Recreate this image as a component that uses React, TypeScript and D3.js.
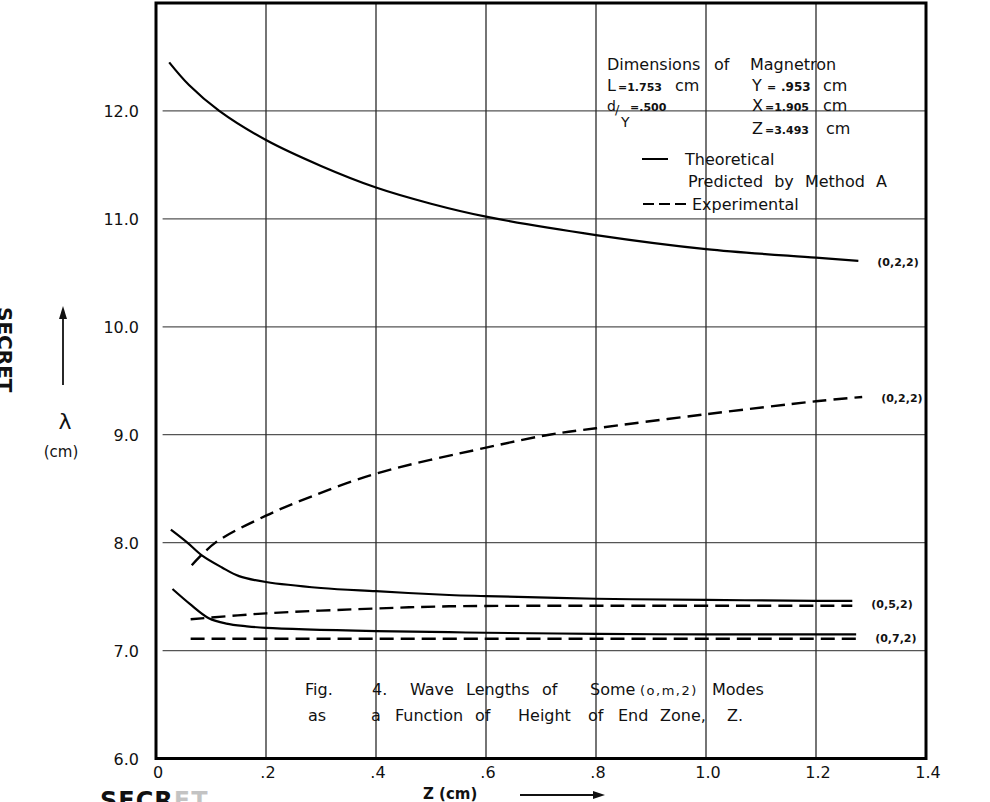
import React from "react";
import * as d3 from "d3";

const W = 990;
const H = 802;

// Axis ticks
const zTicks = [0, 0.2, 0.4, 0.6, 0.8, 1.0, 1.2, 1.4];
const zTickLabels = ["0", ".2", ".4", ".6", ".8", "1.0", "1.2", "1.4"];
const lambdaTicks = [6, 7, 8, 9, 10, 11, 12];
const lambdaTickLabels = ["6.0", "7.0", "8.0", "9.0", "10.0", "11.0", "12.0"];

// (0,2,2) mode
const theo022Z = [0.024, 0.06, 0.115, 0.2, 0.3, 0.4, 0.5, 0.6, 0.8, 1.0, 1.2, 1.277];
const theo022L = [12.45, 12.24, 12.0, 11.73, 11.49, 11.29, 11.14, 11.02, 10.85, 10.72, 10.64, 10.61];
const exp022Z = [0.065, 0.108, 0.2, 0.284, 0.4, 0.6, 0.715, 0.8, 1.0, 1.2, 1.284];
const exp022L = [7.79, 8.0, 8.25, 8.43, 8.64, 8.88, 9.0, 9.06, 9.19, 9.31, 9.35];

// (0,5,2) mode
const theo052Z = [0.027, 0.057, 0.084, 0.12, 0.151, 0.2, 0.3, 0.4, 0.533, 0.6, 0.8, 1.0, 1.2, 1.266];
const theo052L = [8.12, 8.0, 7.88, 7.77, 7.69, 7.635, 7.58, 7.55, 7.515, 7.505, 7.48, 7.47, 7.46, 7.46];
const exp052Z = [0.063, 0.2, 0.4, 0.533, 0.8, 1.0, 1.266];
const exp052L = [7.29, 7.345, 7.39, 7.41, 7.415, 7.415, 7.415];

// (0,7,2) mode
const theo072Z = [0.03, 0.062, 0.096, 0.128, 0.165, 0.2, 0.4, 0.533, 0.6, 0.8, 1.0, 1.2, 1.273];
const theo072L = [7.57, 7.43, 7.3, 7.25, 7.225, 7.21, 7.18, 7.17, 7.165, 7.155, 7.15, 7.15, 7.15];
const exp072Z = [0.063, 0.6, 1.275];
const exp072L = [7.11, 7.11, 7.11];

const modeNames = ["(0,2,2)", "(0,2,2)", "(0,5,2)", "(0,7,2)"];

const FONT = "'DejaVu Sans', 'Liberation Sans', sans-serif";

type Pt = [number, number];
const zip = (zs: number[], ls: number[]): Pt[] => zs.map((z, i) => [z, ls[i]]);

export default function App() {
  const x = d3.scaleLinear().domain([0, 1.4]).range([156, 926]);
  const y = d3.scaleLinear().domain([6, 13]).range([758.5, 3]);

  const line = d3
    .line<Pt>()
    .x((d) => x(d[0]))
    .y((d) => y(d[1]))
    .curve(d3.curveCatmullRom.alpha(0.5));

  const solid = [zip(theo022Z, theo022L), zip(theo052Z, theo052L), zip(theo072Z, theo072L)];
  const dashed = [zip(exp022Z, exp022L), zip(exp052Z, exp052L), zip(exp072Z, exp072L)];

  const last = (a: Pt[]) => a[a.length - 1];
  const labelPos: Pt[] = [
    [last(solid[0])[0], last(solid[0])[1]],
    [last(dashed[0])[0], last(dashed[0])[1]],
    [last(solid[1])[0], (last(solid[1])[1] + last(dashed[1])[1]) / 2],
    [last(solid[2])[0], (last(solid[2])[1] + last(dashed[2])[1]) / 2],
  ];

  const x0 = x(0);
  const x1 = x(1.4);
  const yTop = y(13);
  const yBot = y(6);

  return (
    <svg
      width={W}
      height={H}
      viewBox={`0 0 ${W} ${H}`}
      style={{ position: "absolute", left: 0, top: 0, background: "#fff" }}
      fontFamily={FONT}
    >
      <rect x={0} y={0} width={W} height={H} fill="#fff" />

      {/* grid */}
      {lambdaTicks
        .filter((t) => t > 6)
        .map((t) => (
          <line key={"h" + t} x1={x(0.012)} x2={x1} y1={y(t)} y2={y(t)} stroke="#555" strokeWidth={1.2} />
        ))}
      {zTicks
        .filter((t) => t > 0 && t < 1.4)
        .map((t) => (
          <line key={"v" + t} x1={x(t)} x2={x(t)} y1={yTop} y2={yBot} stroke="#2a2a2a" strokeWidth={1.3} />
        ))}

      {/* frame */}
      <rect x={x0} y={yTop} width={x1 - x0} height={yBot - yTop} fill="none" stroke="#000" strokeWidth={3} />

      {/* y tick labels */}
      {lambdaTicks.map((t, i) => (
        <text key={"yl" + t} x={x0 - 17} y={y(t) + 6} textAnchor="end" fontSize={16} fill="#111">
          {lambdaTickLabels[i]}
        </text>
      ))}

      {/* x tick labels */}
      {zTicks.map((t, i) => (
        <text key={"xl" + t} x={x(t) + 2} y={778} textAnchor="middle" fontSize={16} fill="#111">
          {zTickLabels[i]}
        </text>
      ))}

      {/* axis titles */}
      <text x={423} y={799} fontSize={15} fontWeight="bold" fill="#111">
        Z (cm)
      </text>
      <line x1={520} x2={597} y1={795} y2={795} stroke="#111" strokeWidth={1.8} />
      <path d="M605,795 L593,791 L593,799 Z" fill="#111" />

      <line x1={63} x2={63} y1={385} y2={316} stroke="#111" strokeWidth={1.8} />
      <path d="M63,306 L59,319 L67,319 Z" fill="#111" />
      <text x={65} y={429} textAnchor="middle" fontSize={22} fill="#111">
        λ
      </text>
      <text x={61} y={457} textAnchor="middle" fontSize={15} fill="#111">
        (cm)
      </text>

      {/* curves */}
      {solid.map((d, i) => (
        <path key={"s" + i} d={line(d) || ""} fill="none" stroke="#000" strokeWidth={2.2} />
      ))}
      {dashed.map((d, i) => (
        <path key={"d" + i} d={line(d) || ""} fill="none" stroke="#000" strokeWidth={2.4} strokeDasharray="14,7" />
      ))}

      {/* mode labels */}
      {modeNames.map((m, i) => (
        <text
          key={"m" + i}
          x={x(labelPos[i][0]) + 19}
          y={y(labelPos[i][1]) + 5}
          fontSize={11}
          fontWeight="bold"
          fill="#111"
        >
          {m}
        </text>
      ))}

      {/* magnetron dimensions */}
      <g fill="#111">
        <text x={607} y={70} fontSize={16}>Dimensions</text>
        <text x={714} y={70} fontSize={16}>of</text>
        <text x={750} y={70} fontSize={16}>Magnetron</text>

        <text x={607} y={91} fontSize={16}>L</text>
        <text x={618} y={91} fontSize={11} fontWeight="bold">=1.753</text>
        <text x={675} y={91} fontSize={16}>cm</text>

        <text x={607} y={111} fontSize={14}>d</text>
        <text x={615} y={114} fontSize={13}>/</text>
        <text x={621} y={127} fontSize={14}>Y</text>
        <text x={630} y={111} fontSize={11} fontWeight="bold">=.500</text>

        <text x={752} y={91} fontSize={16}>Y</text>
        <text x={767} y={91} fontSize={11} fontWeight="bold">=</text>
        <text x={781} y={91} fontSize={12} fontWeight="bold">.953</text>
        <text x={823} y={91} fontSize={16}>cm</text>

        <text x={752} y={111} fontSize={16}>X</text>
        <text x={765} y={111} fontSize={11} fontWeight="bold">=1.905</text>
        <text x={823} y={111} fontSize={16}>cm</text>

        <text x={752} y={134} fontSize={16}>Z</text>
        <text x={765} y={134} fontSize={11} fontWeight="bold">=3.493</text>
        <text x={826} y={134} fontSize={16}>cm</text>
      </g>

      {/* legend */}
      <line x1={642} x2={668} y1={159} y2={159} stroke="#000" strokeWidth={2} />
      <text x={685} y={165} fontSize={16} fill="#111">Theoretical</text>
      <text x={688} y={187} fontSize={16} fill="#111" wordSpacing={6}>
        Predicted by Method A
      </text>
      <line x1={643} x2={690} y1={204} y2={204} stroke="#000" strokeWidth={2} strokeDasharray="11,5" />
      <text x={692} y={210} fontSize={16} fill="#111">Experimental</text>

      {/* caption */}
      <g fill="#111" fontSize={16}>
        <text x={305} y={695}>Fig.</text>
        <text x={372} y={695}>4.</text>
        <text x={410} y={695}>Wave</text>
        <text x={466} y={695}>Lengths</text>
        <text x={542} y={695}>of</text>
        <text x={590} y={695}>Some</text>
        <text x={640} y={695} fontSize={13} letterSpacing={1.5}>(o,m,2)</text>
        <text x={712} y={695}>Modes</text>

        <text x={308} y={721}>as</text>
        <text x={371} y={721}>a</text>
        <text x={395} y={721}>Function</text>
        <text x={475} y={721}>of</text>
        <text x={518} y={721}>Height</text>
        <text x={588} y={721}>of</text>
        <text x={618} y={721}>End</text>
        <text x={660} y={721}>Zone,</text>
        <text x={727} y={721}>Z.</text>
      </g>

      {/* margin stamps */}
      <text transform="translate(-2,307) rotate(90)" fontSize={20} fontWeight="bold" fill="#111">
        SECRET
      </text>
      <text x={100} y={809} fontSize={24} fontWeight="bold" fill="#111" letterSpacing={1}>
        SECR<tspan fillOpacity={0.25}>ET</tspan>
      </text>
    </svg>
  );
}
